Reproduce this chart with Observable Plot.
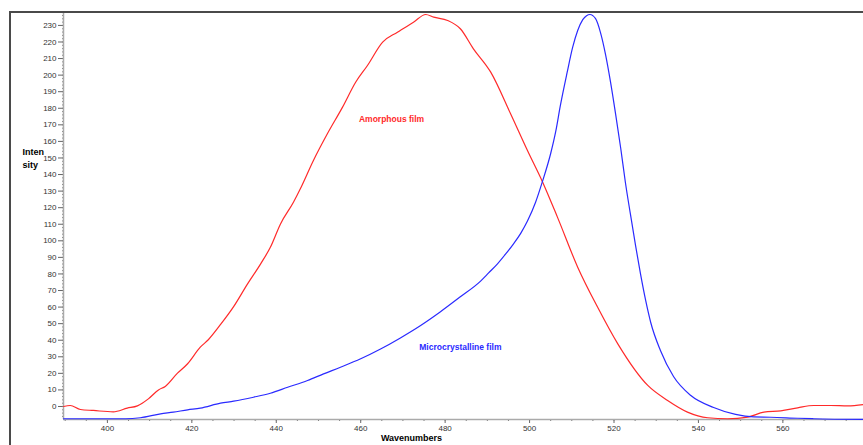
<!DOCTYPE html>
<html><head><meta charset="utf-8">
<script src="https://cdn.jsdelivr.net/npm/d3@7"></script>
<script src="https://cdn.jsdelivr.net/npm/@observablehq/plot@0.6"></script>
<style>
html,body{margin:0;padding:0;background:#fff;}
#wrap{position:relative;width:863px;height:445px;overflow:hidden;}
#border{position:absolute;left:9px;top:11px;right:0;bottom:0;border-left:2px solid #4a4a4a;border-top:2px solid #4a4a4a;pointer-events:none;}
</style></head><body><div id="wrap"><div id="border"></div></div>
<script>
const amorphousX = [389.6, 391.2, 393.6, 396.7, 401.4, 404.7, 407.1, 409.7, 412.1, 413.7, 416.6, 419.0, 422.0, 423.9, 426.8, 429.9, 433.2, 436.3, 438.6, 441.0, 444.1, 445.7, 448.8, 452.1, 455.7, 458.8, 461.6, 465.2, 468.7, 472.5, 475.4, 477.3, 480.6, 483.6, 486.7, 490.8, 495.5, 499.5, 503.1, 506.6, 511.4, 516.1, 520.9, 528.0, 532.7, 537.4, 542.2, 546.9, 551.7, 555.5, 559.5, 563.5, 567.3, 571.3, 575.4, 579.1];
const amorphousY = [0, 0.6, -1.8, -2.4, -3.2, -1.0, 0.4, 4.6, 10.0, 12.1, 20.1, 25.8, 35.8, 40.3, 49.5, 60.3, 74.0, 86.1, 96.1, 110.2, 123.4, 131.4, 148.5, 164.6, 180.7, 195.7, 205.8, 219.9, 225.9, 231.9, 236.6, 235.0, 233.0, 228.0, 215.9, 201.8, 176.7, 154.5, 135.4, 114.3, 84.1, 60.0, 37.8, 12.7, 3.6, -3.4, -6.8, -7.4, -6.4, -3.4, -2.6, -0.8, 0.6, 0.6, 0.4, 1.2];

const microX = [389.6, 398.3, 404.3, 407.8, 412.6, 415.6, 419.0, 422.0, 426.8, 429.9, 434.6, 438.6, 442.7, 447.4, 451.2, 455.2, 460.0, 464.7, 469.4, 474.2, 478.9, 483.6, 488.4, 490.3, 492.4, 494.3, 496.2, 497.9, 499.5, 501.4, 503.0, 505.0, 506.2, 507.3, 508.9, 510.2, 511.4, 512.6, 513.5, 514.3, 515.6, 516.8, 518.0, 519.2, 520.4, 521.6, 522.7, 523.9, 525.1, 526.3, 527.5, 528.7, 531.0, 534.1, 538.2, 543.6, 548.8, 553.1, 557.1, 563.5, 567.3, 579.1];
const microY = [-7.4, -7.4, -7.4, -6.8, -4.4, -3.4, -2.0, -1.0, 2.0, 3.2, 5.6, 8.0, 11.6, 15.7, 19.7, 23.7, 28.8, 34.7, 41.4, 48.9, 57.2, 66.2, 75.7, 80.6, 86.1, 91.9, 98.2, 104.5, 111.9, 123.1, 135.4, 152.7, 166.0, 181.7, 201.6, 216.7, 226.9, 233.5, 235.9, 236.6, 234.2, 225.7, 212.4, 195.5, 176.2, 155.7, 135.2, 115.9, 97.2, 79.7, 64.0, 50.7, 33.8, 18.1, 6.6, -0.6, -4.8, -6.3, -6.5, -7.1, -7.4, -7.8];

const xTicks = [400, 420, 440, 460, 480, 500, 520, 540, 560];
const yTicks = [0, 10, 20, 30, 40, 50, 60, 70, 80, 90, 100, 110, 120, 130, 140, 150, 160, 170, 180, 190, 200, 210, 220, 230];
const xDomain = [389.6, 579.1];
const yDomain = [-7.85, 237.8];

const seriesNames = ["Amorphous film", "Microcrystalline film"];
const seriesColors = ["#ff2a2a", "#2a2aff"];
const labelX = [467.3, 483.6];
const labelY = [173.4, 35.6];

const amorphous = amorphousX.map((x, i) => ({x, y: amorphousY[i]}));
const micro = microX.map((x, i) => ({x, y: microY[i]}));
const labels = seriesNames.map((t, i) => ({t, x: labelX[i], y: labelY[i], c: seriesColors[i]}));
const xMinor = d3.range(390, 580, 5);
const yMinor = d3.range(-6, 238, 2);

const font = "'Liberation Sans', Arial, Helvetica, sans-serif";

const plot = Plot.plot({
  width: 863, height: 445,
  marginLeft: 63, marginRight: 0, marginTop: 12, marginBottom: 26,
  x: {domain: xDomain},
  y: {domain: yDomain},
  style: {fontFamily: font, background: "transparent", overflow: "visible"},
  marks: [
    Plot.axisY({ticks: yMinor, tickSize: 2, text: null, label: null, stroke: "#888", dx: 1}),
    Plot.axisY({ticks: yTicks, tickSize: 5, tickPadding: 2, fontSize: 8, label: null, stroke: "#666", fill: "#333", tickFormat: d => d}),
    Plot.axisX({ticks: xMinor, tickSize: 2, text: null, label: null, stroke: "#777"}),
    Plot.axisX({ticks: xTicks, tickSize: 4, tickPadding: 2, fontSize: 8, label: null, stroke: "#666", fill: "#333", tickFormat: d => d}),
    Plot.ruleX([xDomain[0]], {stroke: "#aaa", strokeWidth: 1.5}),
    Plot.ruleY([yDomain[0]], {stroke: "#aaa", strokeWidth: 1.5}),
    Plot.line(amorphous, {x: "x", y: "y", stroke: seriesColors[0], strokeWidth: 1.2, curve: "monotone-x"}),
    Plot.line(micro, {x: "x", y: "y", stroke: seriesColors[1], strokeWidth: 1.2, curve: "monotone-x"}),
    Plot.text(labels, {x: "x", y: "y", text: "t", fill: "c", fontSize: 8.5, fontWeight: "bold"}),
    Plot.text(["Inten\nsity"], {frameAnchor: "top-left", dx: -41, dy: 133.5, textAnchor: "start", lineHeight: 1.45, fontSize: 9, fontWeight: "bold", fill: "#000"}),
    Plot.text(["Wavenumbers"], {frameAnchor: "bottom", dx: -52, dy: 21, fontSize: 9, fontWeight: "bold", fill: "#000"})
  ]
});
document.getElementById("wrap").appendChild(plot);
</script>
</body></html>
